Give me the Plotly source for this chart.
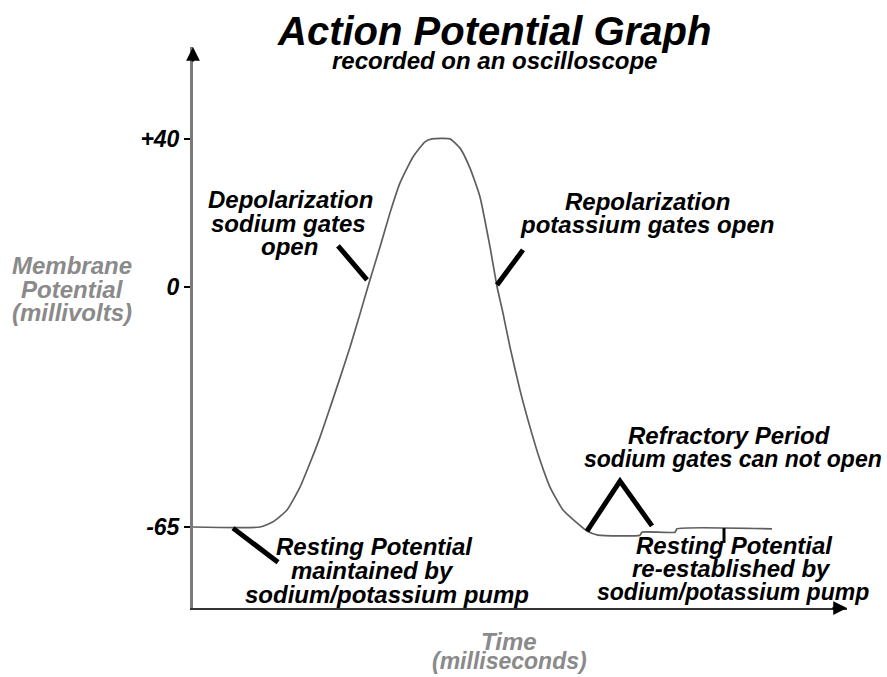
import plotly.graph_objects as go

# ---- data (time in ms, membrane potential in mV) ----
time_ms = [0.00, 0.67, 0.80, 0.94, 1.07, 1.17, 1.27, 1.37, 1.47, 1.57, 1.67, 1.77, 1.87,
           1.97, 2.07, 2.20, 2.32, 2.39, 2.57, 2.67, 2.77, 2.87, 2.97, 3.04, 3.10, 3.17,
           3.27, 3.37, 3.47, 3.57, 3.70, 3.84, 3.94, 4.05, 4.47, 4.49, 4.82, 4.84, 5.79]
potential_mv = [-65.0, -65.0, -63.6, -60.4, -54.2, -47.7, -40.7, -32.8, -24.7, -16.4, -7.4, 1.8, 10.7,
                19.9, 28.0, 35.0, 39.1, 39.9, 39.9, 37.4, 32.0, 24.2, 10.7, 0.0, -7.2, -16.4,
                -28.0, -38.0, -46.9, -54.2, -60.4, -63.9, -66.1, -67.2, -67.2, -66.4, -66.4, -65.5, -65.5]

# pointer strokes (time, mV)
depol_t, depol_v = [1.45, 1.74], [11.0, 1.8]
repol_t, repol_v = [3.30, 3.04], [9.9, 0.4]
rest_t, rest_v = [0.40, 0.85], [-65.3, -74.5]
refr_t, refr_v = [3.94, 4.27, 4.59], [-66.1, -52.6, -64.7]
reest_t, reest_v = [5.31, 5.31], [-65.3, -69.3]

tick_vals = [40, 0, -65]
tick_text = ["+40", "0", "-65"]

X_RANGE = [0, 6.54]
Y_RANGE = [-86.89, 64.73]

# ---- layout helpers (pixel -> paper) ----
L, R, T, B = 193, 847, 47, 608
def px(x):
    return (x - L) / (R - L)
def py(y):
    return (B - y) / (B - T)

FONT = "Liberation Sans, Arial, sans-serif"
def tfont(size, color="black"):
    return dict(family=FONT, size=size, color=color, weight="bold", style="italic")

fig = go.Figure()
fig.add_trace(go.Scatter(x=time_ms, y=potential_mv, mode="lines",
                         line=dict(color="#5e5e5e", width=1.7, shape="spline", smoothing=0.5),
                         hoverinfo="skip"))
for tt, vv, w in [(depol_t, depol_v, 5), (repol_t, repol_v, 5), (rest_t, rest_v, 5),
                  (refr_t, refr_v, 5), (reest_t, reest_v, 3)]:
    fig.add_trace(go.Scatter(x=tt, y=vv, mode="lines", line=dict(color="black", width=w),
                             hoverinfo="skip"))

ann = []
def label(text, x, y, size=24, color="black"):
    ann.append(dict(text=text, x=px(x), y=py(y), xref="paper", yref="paper",
                    showarrow=False, xanchor="center", yanchor="middle", font=tfont(size, color)))

label("Action Potential Graph", 494, 31, size=40)
label("recorded on an oscilloscope", 494, 61, size=24)
label("Depolarization", 290, 199)
label("sodium gates", 288, 223)
label("open", 289, 247)
label("Repolarization", 647, 202)
label("potassium gates open", 647, 225)
label("Membrane", 72, 265, color="#8a8a8a")
label("Potential", 72, 289, color="#8a8a8a")
label("(millivolts)", 72, 312, color="#8a8a8a")
label("Refractory Period", 729, 435)
label("sodium gates can not open", 733, 459, size=23)
label("Resting Potential", 374, 546)
label("maintained by", 372, 570)
label("sodium/potassium pump", 387, 594)
label("Resting Potential", 734, 545)
label("re-established by", 731, 568)
label("sodium/potassium pump", 733, 592, size=23)
label("Time", 509, 641, color="#8a8a8a")
label("(milliseconds)", 509, 661, size=23, color="#8a8a8a")

# axis arrowheads
ann.append(dict(x=0, y=1, xref="paper", yref="paper", ax=0, ay=16, text="",
                showarrow=True, arrowhead=2, arrowsize=1.1, arrowwidth=2.5, arrowcolor="black"))
ann.append(dict(x=1, y=0, xref="paper", yref="paper", ax=-16, ay=0, text="",
                showarrow=True, arrowhead=2, arrowsize=1.1, arrowwidth=2.5, arrowcolor="black"))

fig.update_layout(
    width=887, height=677, autosize=False,
    margin=dict(l=L, r=887 - R, t=T, b=677 - B),
    paper_bgcolor="white", plot_bgcolor="white",
    showlegend=False, template="none",
    annotations=ann,
    xaxis=dict(range=X_RANGE, showgrid=False, zeroline=False, showticklabels=False,
               ticks="", showline=True, linecolor="#333333", linewidth=2, fixedrange=True),
    yaxis=dict(range=Y_RANGE, showgrid=False, zeroline=False, tickmode="array",
               tickvals=tick_vals, ticktext=tick_text, ticks="outside", ticklen=6,
               tickwidth=1.5, tickcolor="black", tickfont=tfont(23),
               showline=True, linecolor="#7a7a7a", linewidth=3, fixedrange=True),
)

fig.write_html("out.html", config={"displayModeBar": False},
               post_script="document.body.style.margin='0';document.body.style.overflow='hidden';")
